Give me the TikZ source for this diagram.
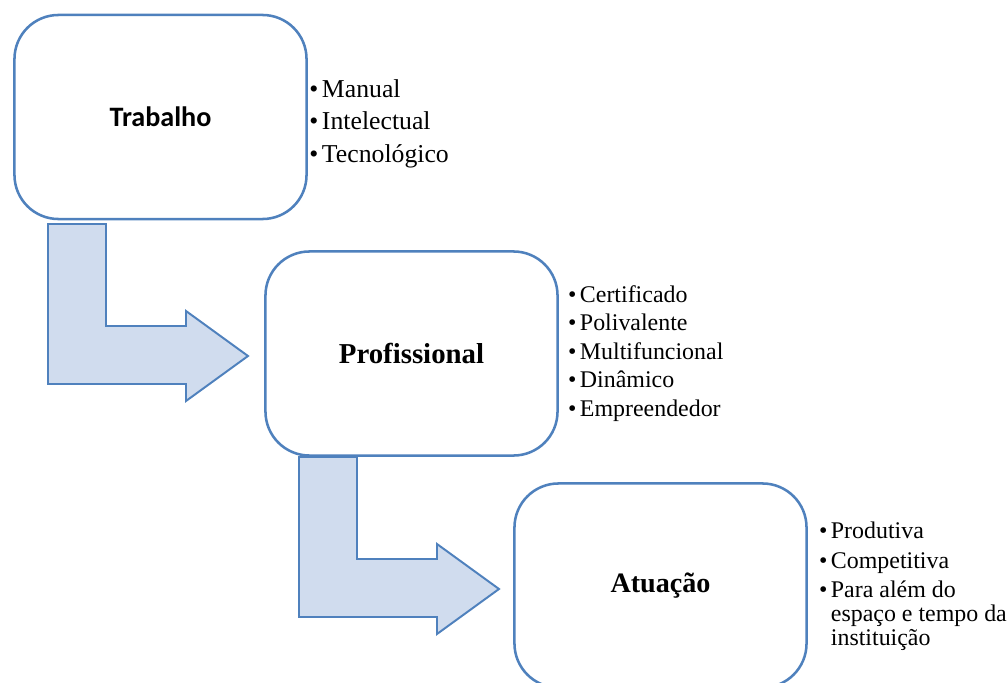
\documentclass[tikz,border=0pt]{standalone}
\usepackage{fontspec}
\setmainfont{Liberation Serif}
\newfontfamily\calibri{Carlito}
\usetikzlibrary{positioning}
\definecolor{boxblue}{RGB}{79,129,189}
\definecolor{arrowfill}{RGB}{208,220,238}
\tikzset{
  etapa/.style={draw=boxblue,line width=1.8pt,fill=white,rounded corners=1.1cm,
    minimum width=7.3cm,minimum height=5.1cm,inner sep=0pt},
  lista/.style={inner sep=0pt,anchor=west,align=left},
  seta/.style={draw=boxblue,line width=1.4pt,fill=arrowfill,line join=miter}
}
\begin{document}
\begin{tikzpicture}[x=0.025cm,y=-0.025cm]
\useasboundingbox (0,0) rectangle (1008,683);

\foreach \sx/\sy in {48/224,299/457}
    \draw[seta,shift={(\sx,\sy)}] (0,0) -- (58,0) -- (58,102) -- (138,102) -- (138,87)
        -- (200,132) -- (138,177) -- (138,160) -- (0,160) -- cycle;

\node[etapa] (trab) at (160.5,117) {\calibri\bfseries\fontsize{20}{24}\selectfont Trabalho};
\node[etapa] (prof) at (411.5,353.5) {\bfseries\fontsize{20.5}{24}\selectfont Profissional};
\node[etapa] (atua) at (660.5,585.5) {\bfseries\fontsize{20}{24}\selectfont Atuação};

\node[lista,right=1pt of trab,yshift=-4.5pt] (trablist) {\fontsize{18.3}{23.3}\selectfont
  \begin{tabular}{@{}l@{\hspace{2.5pt}}l@{}}•&Manual\\•&Intelectual\\•&Tecnológico\end{tabular}};
\node[lista,right=6.4pt of prof] (proflist) {\fontsize{17}{20.3}\selectfont
  \begin{tabular}{@{}l@{\hspace{2.5pt}}l@{}}•&Certificado\\•&Polivalente\\•&Multifuncional\\
  •&Dinâmico\\•&Empreendedor\end{tabular}};
\node[lista,right=7.8pt of atua,yshift=-0.5pt] (atualist) {\fontsize{17}{21}\selectfont
  \begin{tabular}{@{}l@{\hspace{2.5pt}}l@{}}•&Produtiva\\•&Competitiva\\•&Para além do\\[-4pt]
  &espaço e tempo da\\[-4pt] &instituição\end{tabular}};

\end{tikzpicture}
\end{document}
